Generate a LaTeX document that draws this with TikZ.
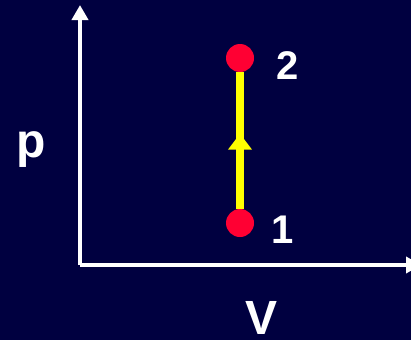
\documentclass[tikz,border=0pt]{standalone}
\usepackage{fontspec}
\setmainfont{Liberation Sans}
\usetikzlibrary{arrows.meta,decorations.markings}
\definecolor{bgcolor}{RGB}{0,0,64}
\definecolor{dotcolor}{RGB}{255,0,51}
\definecolor{pathcolor}{RGB}{255,255,0}
\tikzset{
  axis/.style={draw=white, line width=4pt, -{Triangle[width=16pt,length=15pt]}},
  statedot/.style={circle, fill=dotcolor, minimum size=28pt, inner sep=0pt},
  statepath/.style={draw=pathcolor, line width=8pt, postaction={decorate},
    decoration={markings, mark=at position 0.55 with {\arrow{Triangle[width=23pt,length=16pt]}}}},
  biglabel/.style={text=white, font=\fontsize{48}{48}\selectfont\bfseries},
  numlabel/.style={text=white, font=\fontsize{40}{40}\selectfont\bfseries}
}
\begin{document}
\begin{tikzpicture}[x=1pt, y=-1pt]
    % Background
    \fill[bgcolor] (0,0) rectangle (411,340);
    \useasboundingbox (0,0) rectangle (411,340);
    % Axes
    \coordinate (origin) at (80,265);
    \coordinate (ptop) at (80,5);
    \coordinate (vright) at (421,265);
    \draw[axis] (origin) -- (ptop);
    \draw[axis] (origin) -- (vright);
    \node[biglabel] (plabel) at (31,150) {p};
    \node[biglabel] (vlabel) at (262,318) {V};
    % States
    \node[statedot] (s1) at (240,223) {};
    \node[statedot] (s2) at (240,58) {};
    \draw[statepath] (s1) -- (s2);
    \node[numlabel] (n1) at (283,230) {1};
    \node[numlabel] (n2) at (288,66) {2};
\end{tikzpicture}
\end{document}
